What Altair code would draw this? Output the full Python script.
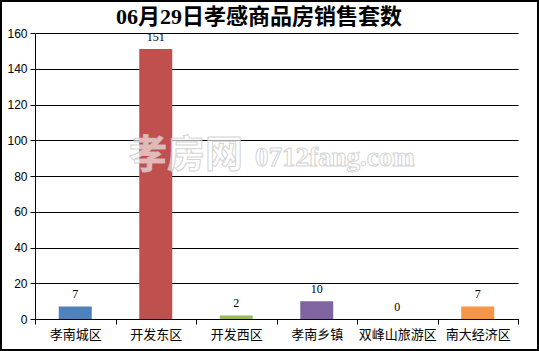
import altair as alt
import pandas as pd

categories = ["孝南城区", "开发东区", "开发西区", "孝南乡镇", "双峰山旅游区", "南大经济区"]
values = [7, 151, 2, 10, 0, 7]
colors = ["#4F81BD", "#C0504D", "#9BBB59", "#8064A2", "#4BACC6", "#F79646"]
title_text = "06月29日孝感商品房销售套数"
y_ticks = [0, 20, 40, 60, 80, 100, 120, 140, 160]

W, H = 483, 286
PAD = {"left": 35, "top": 33, "right": 21, "bottom": 32}

df = pd.DataFrame({"cat": categories, "val": values})

xenc = alt.X(
    "cat:N",
    sort=categories,
    scale=alt.Scale(paddingInner=0, paddingOuter=0),
    axis=alt.Axis(
        title=None, labelAngle=0, tickBand="extent", domainColor="black",
        tickColor="black", tickSize=5, labelFont="Noto Sans CJK SC",
        labelFontSize=13, labelColor="black", labelPadding=4, grid=False,
        labelOverlap=False,
    ),
)
yenc = alt.Y(
    "val:Q",
    scale=alt.Scale(domain=[0, 160], nice=False),
    axis=alt.Axis(
        title=None, values=y_ticks, grid=True, gridColor="black", gridOpacity=1,
        domainColor="black", tickColor="black", tickSize=5, labelOverlap=False,
        labelFont="Liberation Sans", labelFontSize=12, labelColor="black", labelPadding=3,
    ),
)

bars = alt.Chart(df).mark_bar(size=33).encode(
    x=xenc, y=yenc,
    color=alt.Color("cat:N", sort=categories, scale=alt.Scale(domain=categories, range=colors), legend=None),
)

labels = alt.Chart(df).mark_text(
    baseline="bottom", dy=-5, font="Liberation Serif", fontSize=12, color="black"
).encode(x=xenc, y=yenc, text="val:Q")

wm1 = alt.Chart(pd.DataFrame({"t": ["孝房网"]})).mark_text(
    font="Noto Sans CJK SC", fontSize=38, fontWeight="bold", fill="white", fillOpacity=0.6,
    stroke="#c8c8c8", strokeWidth=1, strokeOpacity=0.8, align="left", baseline="middle",
).encode(x=alt.value(94), y=alt.value(123), text="t:N")

wm2 = alt.Chart(pd.DataFrame({"t": ["0712fang.com"]})).mark_text(
    font="Liberation Serif", fontSize=27, fontWeight="bold", fill="white", fillOpacity=0.6,
    stroke="#c8c8c8", strokeWidth=1, strokeOpacity=0.8, align="left", baseline="middle",
).encode(x=alt.value(220), y=alt.value(125), text="t:N")

title = alt.Chart(pd.DataFrame({"t": [title_text]})).mark_text(
    font="Liberation Serif, Noto Sans CJK SC", fontSize=22, fontWeight="bold",
    color="black", align="center", baseline="middle",
).encode(x=alt.value(224), y=alt.value(-16), text="t:N")

border = alt.Chart(pd.DataFrame({"a": [0]})).mark_rect(
    fill=None, stroke="black", strokeWidth=2
).encode(
    x=alt.value(-PAD["left"] + 1), x2=alt.value(W + PAD["right"] - 1),
    y=alt.value(-PAD["top"] + 1), y2=alt.value(H + PAD["bottom"] - 1),
)

chart = alt.layer(bars, labels, wm1, wm2, title, border).properties(
    width=W, height=H,
    autosize=alt.AutoSizeParams(type="none"),
    padding=PAD,
    background="white",
).configure_view(stroke=None)

chart.save("out.html", embed_options={"renderer": "svg", "actions": False})
